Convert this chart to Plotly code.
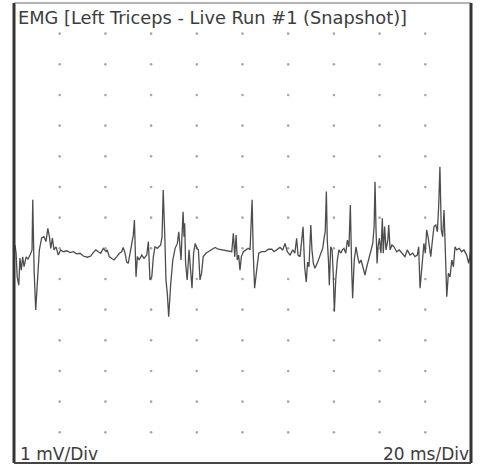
import plotly.graph_objects as go

# EMG snapshot: time in ms, amplitude in mV
time_ms = [
    0.4, 0.9, 1.4, 2.1, 2.6, 3.2, 3.8, 4.4, 5.3, 6.1, 7.0, 7.9, 8.2, 8.8, 9.5, 10.2,
    11.1, 12.1, 13.1, 14.0, 14.8, 15.5, 16.1, 16.8, 17.5, 18.4, 19.4, 20.4, 21.6, 23.1,
    24.5, 26.0, 27.4, 28.9, 30.3, 32.1, 33.6, 34.7, 35.8, 36.9, 37.9, 39.1, 40.3, 40.8,
    41.7, 42.8, 43.8, 45.0, 46.1, 47.1, 47.8, 48.6, 49.3, 50.0, 50.8, 51.5, 52.2, 52.7,
    53.1, 53.4, 54.0, 54.8, 55.9, 56.9, 58.1, 58.8, 59.5, 60.3, 61.0, 61.7, 62.7, 63.2,
    64.2, 64.8, 65.3, 66.0, 66.5, 67.1, 67.7, 68.6, 69.5, 70.5, 71.5, 72.1, 72.7, 73.1,
    73.5, 74.0, 74.4, 74.7, 75.1, 75.8, 76.6, 77.2, 77.9, 78.6, 79.3, 80.1, 80.7, 81.4,
    82.1, 82.8, 84.0, 85.0, 86.5, 88.0, 89.4, 90.9, 93.1, 95.3, 96.0, 96.6, 97.2, 97.7,
    98.3, 98.9, 99.5, 100.4, 101.5, 102.5, 103.3, 104.2, 104.7, 105.3, 106.2, 107.1,
    108.4, 109.9, 111.3, 112.8, 113.8, 115.0, 116.4, 117.6, 118.6, 119.6, 120.8, 122.0,
    122.9, 123.7, 124.3, 125.2, 125.9, 126.5, 127.2, 127.9, 128.5, 129.1, 129.9, 130.4,
    131.0, 131.7, 132.7, 133.9, 135.1, 135.8, 136.2, 136.7, 137.1, 137.6, 138.0, 138.6,
    139.2, 139.7, 140.2, 140.8, 141.5, 142.2, 143.0, 143.7, 144.4, 145.2, 145.9, 146.6,
    147.2, 147.8, 148.2, 148.9, 149.7, 150.4, 151.1, 151.9, 152.9, 153.6, 154.4, 155.4,
    156.2, 157.0, 157.6, 158.0, 158.4, 158.9, 159.3, 159.9, 160.6, 161.2, 161.6, 162.2,
    162.8, 163.6, 164.0, 164.6, 165.4, 166.3, 167.5, 168.6, 169.8, 171.1, 172.1, 173.3,
    174.5, 175.5, 176.5, 177.1, 177.7, 178.3, 178.9, 179.4, 180.0, 180.6, 181.2, 181.8,
    182.4, 182.9, 183.8, 184.6, 185.3, 185.9, 186.4, 187.0, 187.6, 188.2, 188.8, 189.4,
    190.1, 190.8, 191.6, 192.3, 193.0, 193.7, 194.9, 195.9, 196.9, 198.1, 199.0, 199.9,
]
emg_mv = [
    0.11, -0.15, -0.93, -1.20, -0.32, -0.71, -0.28, -0.60, -0.28, -0.35, -0.22, -0.05, 1.58, -0.71, -2.01, -1.03,
    -0.05, 0.34, 0.38, 0.22, 0.65, 0.38, 0.00, 0.33, -0.05, 0.05, -0.22, -0.05, -0.11, -0.08,
    -0.14, -0.11, -0.18, -0.16, -0.25, -0.29, -0.25, -0.14, -0.05, -0.11, -0.16, 0.00, -0.11, -0.05,
    -0.27, -0.33, -0.38, -0.27, -0.16, -0.11, 0.03, -0.16, -0.44, -0.49, -0.16, 0.11, 0.43, 0.92,
    -0.16, -0.93, -0.27, -0.38, -0.22, -0.33, -0.22, 0.22, -1.03, -0.93, -0.27, 0.05, 0.00, 0.03,
    0.11, 0.38, 1.90, 0.38, -1.03, -1.47, -2.23, -1.14, -0.38, 0.00, 0.16, 0.54, 0.05, -0.38,
    0.38, 1.19, 0.38, 0.82, -0.49, -1.03, -0.05, -0.71, -1.30, -0.16, 0.16, 0.00, -0.05, -1.03,
    -0.81, -0.27, -0.16, -0.11, -0.05, 0.03, -0.03, -0.05, -0.08, -0.11, 0.49, -0.27, 0.43, -0.38,
    -0.22, -0.71, -0.27, -0.11, -0.05, 0.00, -0.05, 1.58, -0.16, -1.30, -0.71, -0.16,
    -0.11, -0.11, -0.03, -0.03, -0.11, -0.05, 0.03, -0.05, 0.16, -0.11, -0.22, -0.05,
    -0.16, 0.33, -0.22, -0.27, 0.27, 0.70, -0.60, -1.10, -0.45, -0.60, 0.76, -0.05,
    -0.49, -0.65, -0.49, -0.27, 0.00, 0.38, 0.54, 1.85, 0.27, -0.38, -1.20, 0.05,
    -0.05, -0.81, -2.07, -1.03, -0.38, -0.05, -0.16, -0.05, 0.00, -0.16, 0.27, 0.05,
    1.41, -0.71, -1.63, -0.38, 0.05, -0.27, -0.49, -0.38, -0.71, -0.87, -0.60, -0.27,
    0.00, 0.16, 0.71, 2.17, 0.71, -0.49, 0.05, 0.33, -0.16, 0.98, -0.16, 0.71,
    -0.05, 0.27, 0.76, -0.05, 0.11, 0.05, -0.11, -0.05, -0.16, -0.27, -0.05, -0.22,
    -0.16, -0.27, -0.22, 0.05, -1.30, -0.81, -0.27, 0.16, -0.16, 0.60, 0.38, -0.05,
    -0.27, 0.11, 0.71, 0.76, 0.54, 1.47, 2.66, 0.60, 0.38, 1.25, -0.05, -1.58,
    -0.81, -0.93, -0.38, -0.60, 0.05, -0.05, 0.00, -0.11, -0.05, -0.22, -0.49, -0.05,
]

# Display scale: 10 time divisions of 20 ms, 15 amplitude divisions of 1 mV
time_div_ms = 20
n_time_div = 10
amp_div_mv = 1
amp_min, amp_max = -7, 8

title_text = "EMG [Left Triceps - Live Run #1 (Snapshot)]"
amp_label = "1 mV/Div"
time_label = "20 ms/Div"

grid_x = [time_div_ms * i for i in range(1, n_time_div)]
grid_y = [amp_min + amp_div_mv * j for j in range(1, int((amp_max - amp_min) / amp_div_mv))]
dot_x = [gx for gy in grid_y for gx in grid_x]
dot_y = [gy for gy in grid_y for gx in grid_x]

fig = go.Figure()

# division marker dots
fig.add_trace(go.Scatter(
    x=dot_x, y=dot_y, mode="markers",
    marker=dict(size=2.6, color="#a8a8a8", line=dict(width=0)),
    hoverinfo="skip", showlegend=False,
))

# EMG trace
fig.add_trace(go.Scatter(
    x=time_ms, y=emg_mv, mode="lines",
    line=dict(color="#4d4d4d", width=1.3),
    showlegend=False,
))

axis_common = dict(showgrid=False, zeroline=False, showticklabels=False, ticks="", showline=False, fixedrange=True)
fig.update_xaxes(range=[0, time_div_ms * n_time_div], **axis_common)
fig.update_yaxes(range=[amp_min, amp_max], **axis_common)

frame_color = "#353535"
text_color = "#3c3c3c"
fig.update_layout(
    width=483, height=468,
    margin=dict(l=14, r=12, t=3, b=5),
    paper_bgcolor="white", plot_bgcolor="white",
    shapes=[
        dict(type="line", xref="paper", yref="paper", x0=0, x1=0, y0=0, y1=1,
             line=dict(color=frame_color, width=3), layer="above"),
        dict(type="line", xref="paper", yref="paper", x0=1, x1=1, y0=0, y1=1,
             line=dict(color=frame_color, width=3), layer="above"),
        dict(type="line", xref="paper", yref="paper", x0=0, x1=1, y0=1, y1=1,
             line=dict(color="#6a6a6a", width=1.2), layer="above"),
        dict(type="line", xref="paper", yref="paper", x0=0, x1=1, y0=0, y1=0,
             line=dict(color="#454545", width=2), layer="above"),
    ],
    annotations=[
        dict(text=title_text, xref="paper", yref="paper", x=0, y=1,
             xanchor="left", yanchor="top", xshift=2, yshift=-2, showarrow=False,
             font=dict(family="DejaVu Sans", size=17.8, color=text_color)),
        dict(text=amp_label, xref="paper", yref="paper", x=0, y=0,
             xanchor="left", yanchor="bottom", xshift=4, yshift=-3, showarrow=False,
             font=dict(family="DejaVu Sans", size=17, color=text_color)),
        dict(text=time_label, xref="paper", yref="paper", x=1, y=0,
             xanchor="right", yanchor="bottom", xshift=0, yshift=-3, showarrow=False,
             font=dict(family="DejaVu Sans", size=17, color=text_color)),
    ],
)

fig.write_html("out.html")
